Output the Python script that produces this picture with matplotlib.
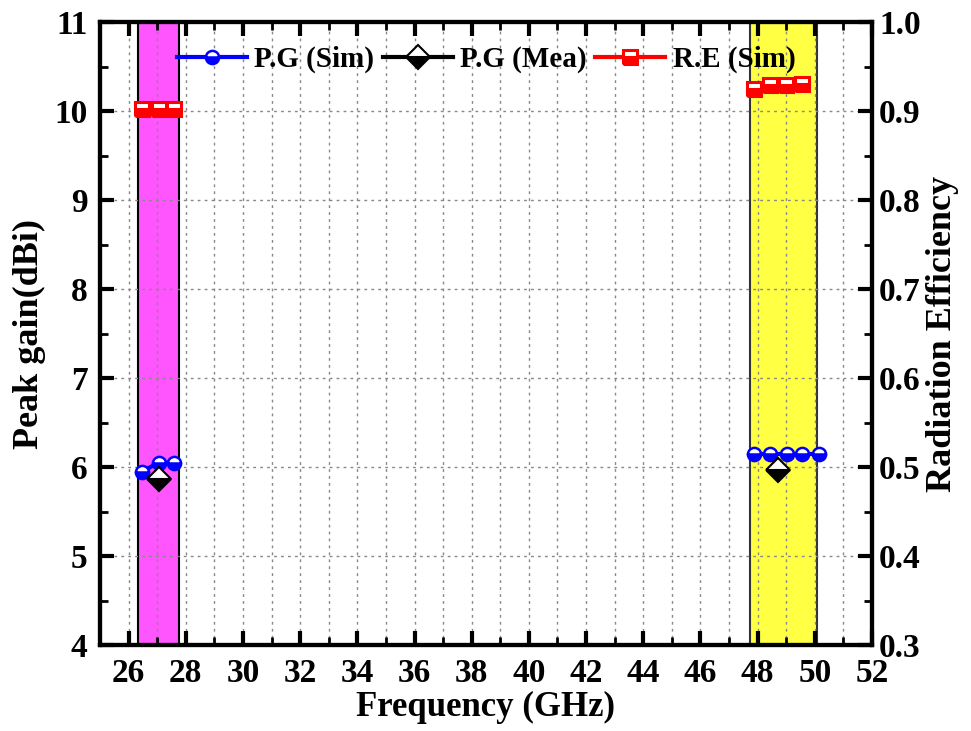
import matplotlib
matplotlib.use("Agg")
import matplotlib.pyplot as plt
from matplotlib.ticker import MultipleLocator, FormatStrFormatter

plt.rcParams['font.family'] = ['Liberation Serif', 'DejaVu Serif']
plt.rcParams['font.weight'] = 'bold'

# peak gain (dBi) vs frequency (GHz)
f_low_sim = [26.47, 27.05, 27.6]
pg_low_sim = [5.95, 6.05, 6.05]
f_high_sim = [47.87, 48.45, 49.03, 49.56, 50.14]
pg_high_sim = [6.15, 6.15, 6.15, 6.15, 6.15]

f_mea = [27.05, 48.73]
pg_mea = [5.87, 5.97]

# radiation efficiency (sim)
f_low_re = [26.47, 27.05, 27.6]
re_low = [0.902, 0.902, 0.902]
f_high_re = [47.87, 48.45, 48.99, 49.56]
re_high = [0.925, 0.929, 0.930, 0.931]

band_low = (26.32, 27.77)
band_high = (47.73, 50.08)

fig = plt.figure(figsize=(9.71, 7.31), dpi=100)
ax = fig.add_axes([0.103, 0.1176, 0.795, 0.852])
ax2 = ax.twinx()

ax.axvspan(*band_low, facecolor='#ff55ff', edgecolor='black', lw=1.5, zorder=0)
ax.axvspan(*band_high, facecolor='#ffff44', edgecolor='#333333', lw=1.5, zorder=0)

circ = dict(color='blue', lw=3, marker='o', ms=9.5, fillstyle='bottom',
            markerfacecoloralt='white', mec='blue', mew=1.8)
diam = dict(color='black', lw=3, marker='D', ms=12, fillstyle='bottom',
            markerfacecoloralt='white', mec='black', mew=1.5)
sq = dict(color='red', lw=3, marker='s', ms=9.5, fillstyle='bottom',
          markerfacecoloralt='white', mec='red', mew=2.2)

l1, = ax.plot(f_low_sim, pg_low_sim, zorder=3, **circ)
ax.plot(f_high_sim, pg_high_sim, zorder=3, **circ)
ax.plot(f_mea, pg_mea, ls='none', zorder=3, **diam)
l2, = ax.plot([], [], **diam)

l3, = ax2.plot(f_low_re, re_low, zorder=3, **sq)
ax2.plot(f_high_re, re_high, zorder=3, **sq)

ax.set_xlim(25, 52)
ax.set_ylim(4, 11)
ax2.set_ylim(0.3, 1.0)

ax.xaxis.set_major_locator(MultipleLocator(2))
ax.xaxis.set_minor_locator(MultipleLocator(1))
ax.yaxis.set_major_locator(MultipleLocator(1))
ax.yaxis.set_minor_locator(MultipleLocator(0.5))
ax2.yaxis.set_major_locator(MultipleLocator(0.1))
ax2.yaxis.set_minor_locator(MultipleLocator(0.05))
ax2.yaxis.set_major_formatter(FormatStrFormatter('%.1f'))

grid_kw = dict(ls=(0, (2, 3)), color='#888888', lw=1)
ax.grid(True, which='both', axis='x', **grid_kw)
ax.grid(True, which='major', axis='y', **grid_kw)
ax.set_axisbelow(False)

for a in (ax, ax2):
    for s in a.spines.values():
        s.set_linewidth(3)
ax.tick_params(axis='x', which='both', direction='in', top=True, labelsize=24, pad=9)
ax.tick_params(axis='y', which='both', direction='in', labelsize=24, pad=9)
ax2.tick_params(axis='y', which='both', direction='in', labelsize=24, pad=5)
for a in (ax, ax2):
    a.tick_params(which='major', length=10, width=3)
    a.tick_params(which='minor', length=6, width=2)

ax.set_xlabel('Frequency (GHz)', fontsize=25, fontweight='bold', labelpad=2)
ax.set_ylabel('Peak gain(dBi)', fontsize=26, fontweight='bold', labelpad=6)
ax2.set_ylabel('Radiation Efficiency', fontsize=26, fontweight='bold', labelpad=4)

ax2.legend([l1, l2, l3], ['P.G (Sim)', 'P.G (Mea)', 'R.E (Sim)'],
           loc='center', bbox_to_anchor=(0.5, 0.94), ncol=3, frameon=False,
           prop={'size': 21, 'weight': 'bold'}, handlelength=2.4,
           columnspacing=0.3, handletextpad=0.25, borderpad=0)

fig.savefig('out.png', dpi=100)
